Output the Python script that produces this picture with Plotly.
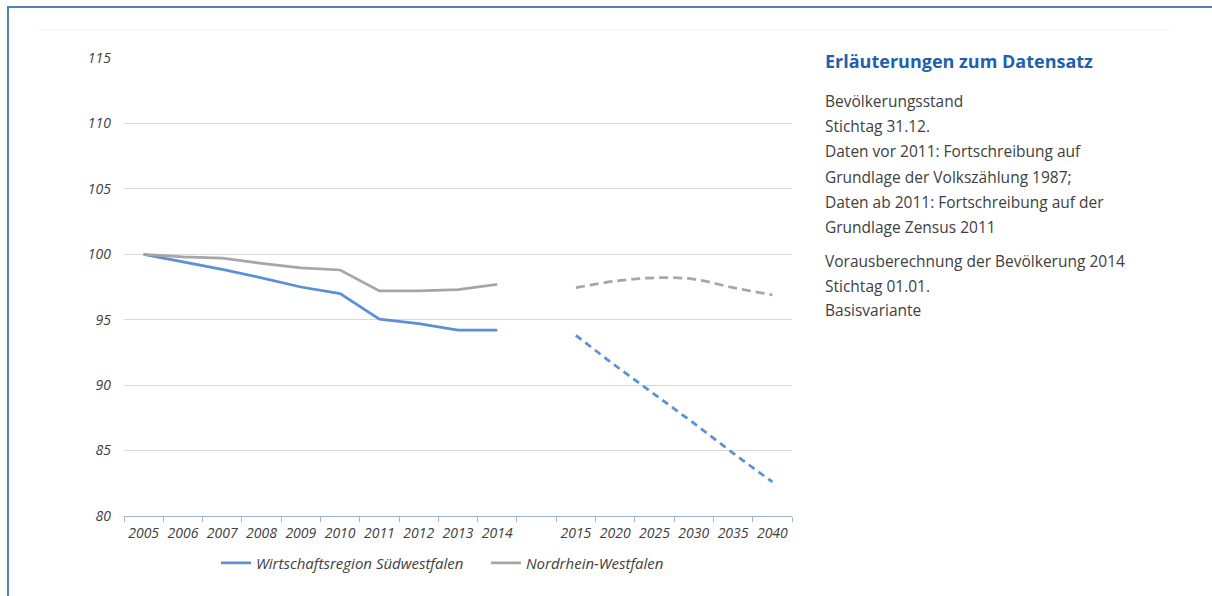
import plotly.graph_objects as go

# ---- data ----
years_hist = ["2005", "2006", "2007", "2008", "2009", "2010", "2011", "2012", "2013", "2014"]
years_proj = ["2015", "2020", "2025", "2030", "2035", "2040"]
gap_cat = [" "]

swf_hist = [100.0, 99.45, 98.85, 98.2, 97.5, 97.0, 95.05, 94.7, 94.2, 94.2]
nrw_hist = [100.0, 99.8, 99.7, 99.3, 98.97, 98.8, 97.2, 97.2, 97.3, 97.7]
swf_proj = [93.8, 91.5, 89.3, 87.1, 84.8, 82.6]
nrw_proj = [97.45, 97.95, 98.2, 98.1, 97.45, 96.9]

name_swf = "Wirtschaftsregion Südwestfalen"
name_nrw = "Nordrhein-Westfalen"

info_title = "Erläuterungen zum Datensatz"
info_lines_1 = [
    "Bevölkerungsstand",
    "Stichtag 31.12.",
    "Daten vor 2011: Fortschreibung auf",
    "Grundlage der Volkszählung 1987;",
    "Daten ab 2011: Fortschreibung auf der",
    "Grundlage Zensus 2011",
]
info_lines_2 = [
    "Vorausberechnung der Bevölkerung 2014",
    "Stichtag 01.01.",
    "Basisvariante",
]

BLUE = "#5b8fd6"
GRAY = "#a6a6a6"
TEXT = "#404040"

W, H = 1212, 596
L, R, T, B = 124, 420, 58, 80
PW, PH = W - L - R, H - T - B


def px_x(x):
    return (x - L) / PW


def px_y(y):
    return (H - B - y) / PH


fig = go.Figure()
fig.add_trace(go.Scatter(x=years_hist, y=swf_hist, mode="lines", name=name_swf,
                         line=dict(color=BLUE, width=2.75)))
fig.add_trace(go.Scatter(x=years_hist, y=nrw_hist, mode="lines", name=name_nrw,
                         line=dict(color=GRAY, width=2.75)))
fig.add_trace(go.Scatter(x=years_proj, y=swf_proj, mode="lines", showlegend=False,
                         line=dict(color=BLUE, width=2.75, dash="7px,5px")))
fig.add_trace(go.Scatter(x=years_proj, y=nrw_proj, mode="lines", showlegend=False,
                         line=dict(color=GRAY, width=2.75, dash="9px,5px"), line_shape="spline"))

tickfont = dict(family="Open Sans", size=14, color=TEXT, style="italic")

fig.update_xaxes(
    type="category",
    categoryorder="array",
    categoryarray=years_hist + gap_cat + years_proj,
    range=[-0.5, 16.5],
    showgrid=False,
    showline=True, linecolor="#9db5d6", linewidth=1,
    ticks="outside", tickson="boundaries", ticklen=5, tickcolor="#9db5d6",
    tickfont=tickfont, ticklabelstandoff=4, tickangle=0,
    fixedrange=True,
)
fig.update_yaxes(
    range=[80, 115], dtick=5, tick0=80,
    showgrid=True, gridcolor="#d9d9d9", gridwidth=1,
    zeroline=False, showline=False,
    ticks="", ticklabelstandoff=12,
    tickfont=tickfont,
)

TX = 823
annotations = [
    dict(text=info_title, x=px_x(TX), y=px_y(61), xref="paper", yref="paper",
         xanchor="left", yanchor="middle", showarrow=False,
         font=dict(family="Open Sans", size=18, color="#1f5fad", weight="bold"))
]
y0 = 101
for i, t in enumerate(info_lines_1):
    annotations.append(dict(text=t, x=px_x(TX), y=px_y(y0 + i * 25.2), xref="paper", yref="paper",
                            xanchor="left", yanchor="middle", showarrow=False,
                            font=dict(family="Open Sans", size=15.5, color=TEXT)))
y1 = 261
for i, t in enumerate(info_lines_2):
    annotations.append(dict(text=t, x=px_x(TX), y=px_y(y1 + i * 24.5), xref="paper", yref="paper",
                            xanchor="left", yanchor="middle", showarrow=False,
                            font=dict(family="Open Sans", size=15.5, color=TEXT)))

shapes = [
    dict(type="line", xref="paper", yref="paper", x0=px_x(8), x1=px_x(8), y0=px_y(6), y1=px_y(H + 5),
         line=dict(color="#4f81bd", width=2)),
    dict(type="line", xref="paper", yref="paper", x0=px_x(7), x1=px_x(W + 5), y0=px_y(7), y1=px_y(7),
         line=dict(color="#4f81bd", width=2)),
    dict(type="line", xref="paper", yref="paper", x0=px_x(35), x1=px_x(1170), y0=px_y(30), y1=px_y(30),
         line=dict(color="#f4f4f4", width=1)),
]

fig.update_layout(
    width=W, height=H,
    margin=dict(l=L, r=R, t=T, b=B),
    paper_bgcolor="white", plot_bgcolor="white",
    showlegend=True,
    legend=dict(orientation="h", x=px_x(216), y=px_y(563), xanchor="left", yanchor="middle",
                font=dict(family="Open Sans", size=15, color=TEXT, style="italic"),
                entrywidth=225, entrywidthmode="pixels",
                bgcolor="rgba(0,0,0,0)", tracegroupgap=0),
    annotations=annotations,
    shapes=shapes,
)

fig.write_html("out.html", config={"displayModeBar": False},
               post_script="document.body.style.margin='0';")
